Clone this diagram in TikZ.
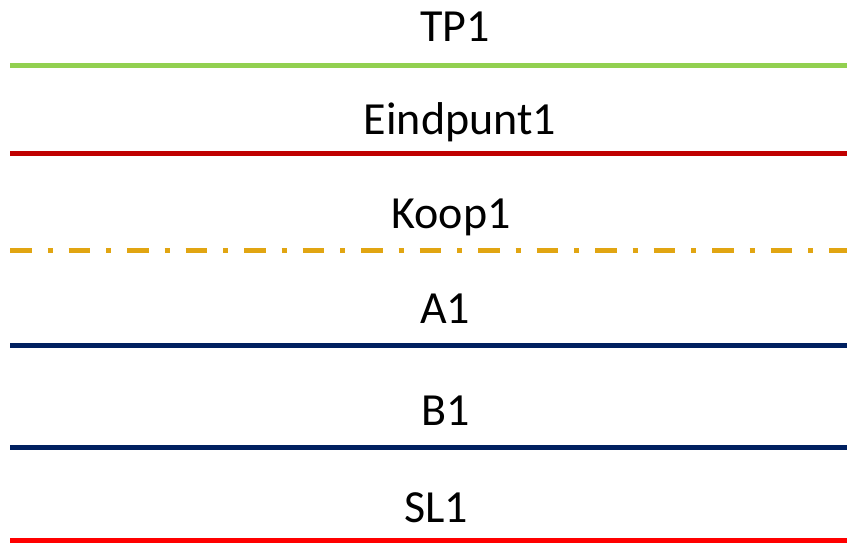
\documentclass[tikz,border=0pt]{standalone}
\usepackage{fontspec}
\setmainfont{Carlito}
\definecolor{tpgreen}{HTML}{92D050}
\definecolor{endred}{HTML}{C00000}
\definecolor{koopgold}{HTML}{E1A512}
\definecolor{navy}{HTML}{002060}
\definecolor{slred}{HTML}{FF0000}

\begin{document}
\begin{tikzpicture}[x=1pt, y=-1pt,
    lbl/.style={anchor=base, inner sep=0pt, font=\fontsize{46}{55}\selectfont},
    lane/.style={line width=5pt}]
    \useasboundingbox (0,0) rectangle (847,542);
    \node[lbl] (tp) at (455,41) {TP1};
    \draw[lane, tpgreen] (10,65) -- (847,65);
    \node[lbl] (eind) at (460,134) {Eindpunt1};
    \draw[lane, endred] (10,153) -- (847,153);
    \node[lbl] (koop) at (451,228) {Koop1};
    \draw[lane, koopgold, dash pattern=on 21.5pt off 16pt on 5pt off 16pt] (10,250.5) -- (847,250.5);
    \node[lbl] (a) at (445,323) {A1};
    \draw[lane, navy] (10,345) -- (847,345);
    \node[lbl] (b) at (446,425) {B1};
    \draw[lane, navy] (10,447) -- (847,447);
    \node[lbl] (sl) at (436,522) {SL1};
    \draw[lane, slred] (10,540.5) -- (847,540.5);
\end{tikzpicture}
\end{document}
